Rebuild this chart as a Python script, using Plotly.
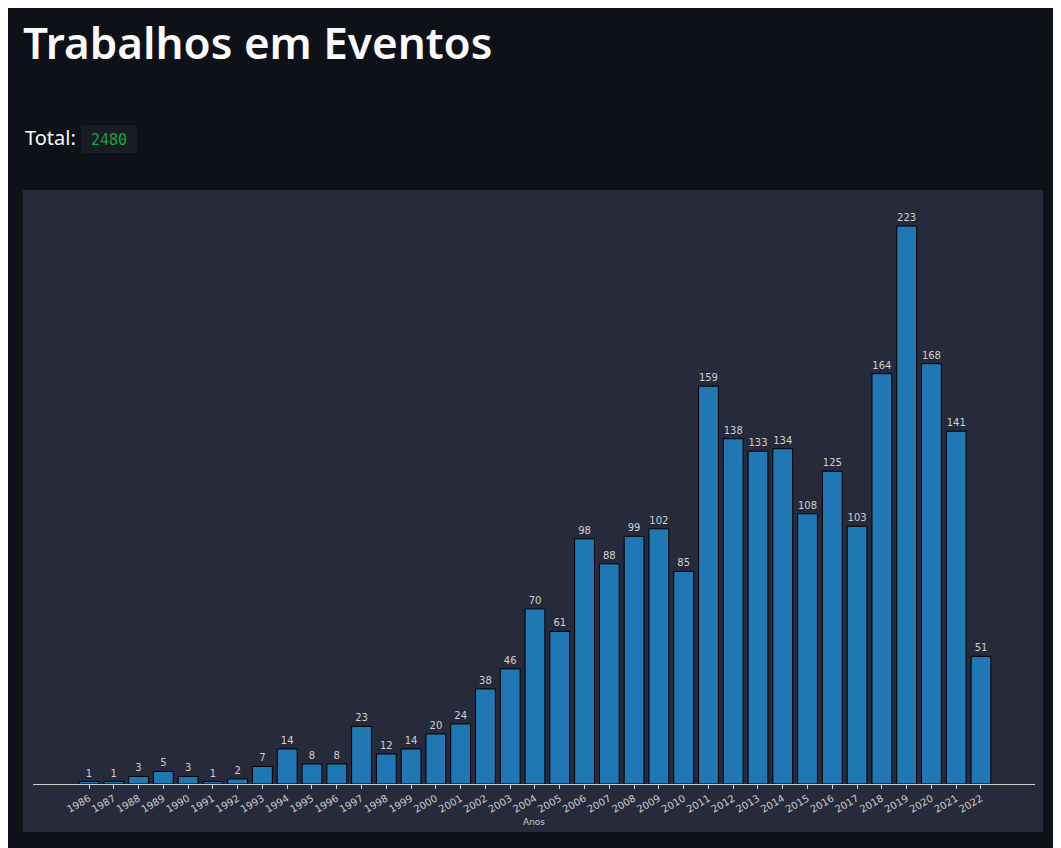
import plotly.graph_objects as go

anos = [str(y) for y in range(1986, 2023)]
trabalhos = [1, 1, 3, 5, 3, 1, 2, 7, 14, 8, 8, 23, 12, 14, 20, 24, 38, 46, 70, 61,
             98, 88, 99, 102, 85, 159, 138, 133, 134, 108, 125, 103, 164, 223, 168, 141, 51]
titulo = "Trabalhos em Eventos"
total = sum(trabalhos)

W, H = 1061, 848
OFF = 8  # page body margin
def px_x(x):
    return (x - OFF) / W
def px_y(y):
    return 1 - (y - OFF) / H

fig = go.Figure()
fig.add_trace(go.Bar(
    x=list(range(len(anos))), y=trabalhos,
    marker=dict(color="#1f77b4", line=dict(color="#000000", width=1)),
    width=0.8,
    text=[str(v) for v in trabalhos], textposition="outside",
    textfont=dict(color="#d0d0d0", size=10, family="DejaVu Sans"),
    cliponaxis=False, hoverinfo="skip",
))

shapes = [
    dict(type="rect", xref="paper", yref="paper", x0=px_x(23), x1=px_x(1043),
         y0=px_y(832), y1=px_y(190), fillcolor="#262a3a", line=dict(width=0), layer="below"),
    dict(type="rect", xref="paper", yref="paper", x0=px_x(81), x1=px_x(137),
         y0=px_y(153), y1=px_y(125), fillcolor="#1a1c24", line=dict(width=0), layer="below"),
]

annotations = [
    dict(text=titulo, xref="paper", yref="paper", x=px_x(21), y=px_y(42),
         xanchor="left", yanchor="middle", showarrow=False,
         font=dict(family="Noto Sans", size=44, color="#fafafa", weight=600)),
    dict(text="Total:", xref="paper", yref="paper", x=px_x(23), y=px_y(137),
         xanchor="left", yanchor="middle", showarrow=False,
         font=dict(family="Noto Sans", size=20, color="#fafafa")),
    dict(text=str(total), xref="paper", yref="paper", x=px_x(109), y=px_y(140),
         xanchor="center", yanchor="middle", showarrow=False,
         font=dict(family="DejaVu Sans Mono", size=15, color="#09ab3b")),
]

fig.update_layout(
    width=W, height=H,
    margin=dict(l=0, r=0, t=0, b=0),
    paper_bgcolor="#0e1117", plot_bgcolor="rgba(0,0,0,0)",
    showlegend=False, bargap=0.2,
    shapes=shapes, annotations=annotations,
    xaxis=dict(
        domain=[px_x(33), px_x(1035)],
        range=[-2.26, 38.18],
        tickmode="array", tickvals=list(range(len(anos))), ticktext=anos,
        tickangle=-30, ticks="outside", ticklen=4, tickcolor="#cccccc",
        tickfont=dict(size=10, color="#cccccc", family="DejaVu Sans"),
        showline=True, linecolor="#cccccc", linewidth=1,
        showgrid=False, zeroline=False,
        title=dict(text="Anos", font=dict(size=9, color="#cccccc", family="DejaVu Sans"), standoff=4),
    ),
    yaxis=dict(
        domain=[px_y(784), px_y(205)],
        range=[0, (784 - 205) / 2.502],
        showticklabels=False, showgrid=False, zeroline=False, showline=False, ticks="",
    ),
)

fig.write_html("out.html")
